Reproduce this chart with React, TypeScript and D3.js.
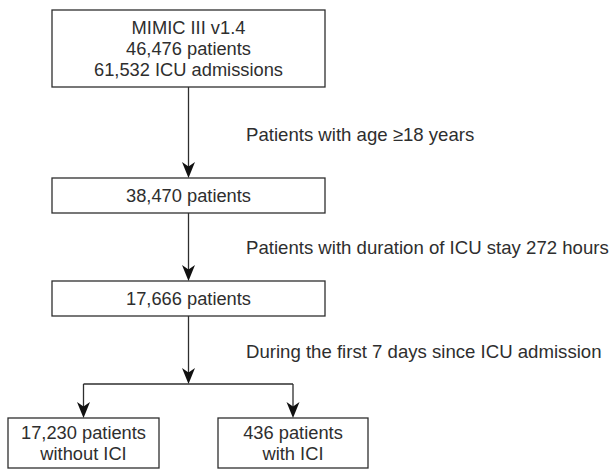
import * as d3 from 'd3';
import React, { useEffect, useRef } from 'react';

// flow content
const nodeIds = ['mimic', 'adult', 'stay', 'noICI', 'ICI'];
const nodeLabels = [
  ['MIMIC III v1.4', '46,476 patients', '61,532 ICU admissions'],
  ['38,470 patients'],
  ['17,666 patients'],
  ['17,230 patients', 'without ICI'],
  ['436 patients', 'with ICI'],
];
const stepLabels = [
  'Patients with age \u226518 years',
  'Patients with duration of ICU stay 272 hours',
  'During the first 7 days since ICU admission',
];

// layout (pixel boxes)
const boxes = [
  { x0: 52, x1: 325, y0: 10, y1: 87 },
  { x0: 52, x1: 325, y0: 178, y1: 213 },
  { x0: 52, x1: 325, y0: 281, y1: 316 },
  { x0: 8, x1: 159, y0: 418, y1: 468 },
  { x0: 218, x1: 368, y0: 418, y1: 468 },
];
const stepY = [134, 247, 351];

const W = 612;
const H = 471;
const INK = '#2e2e2e';
const FONT = '"Liberation Sans", Arial, Helvetica, sans-serif';

const App: React.FC = () => {
  const ref = useRef<SVGSVGElement | null>(null);

  useEffect(() => {
    if (!ref.current) return;
    const svg = d3.select(ref.current);
    svg.selectAll('*').remove();

    const cx = (b: typeof boxes[0]) => (b.x0 + b.x1) / 2;
    const lineH = 21;

    const g = svg.append('g');

    // boxes
    const node = g
      .selectAll('g.node')
      .data(nodeIds)
      .enter()
      .append('g')
      .attr('class', 'node');

    node
      .append('rect')
      .attr('x', (_, i) => boxes[i].x0)
      .attr('y', (_, i) => boxes[i].y0)
      .attr('width', (_, i) => boxes[i].x1 - boxes[i].x0)
      .attr('height', (_, i) => boxes[i].y1 - boxes[i].y0)
      .attr('fill', 'white')
      .attr('stroke', INK)
      .attr('stroke-width', 1.3);

    node.each(function (_, i) {
      const b = boxes[i];
      const lines = nodeLabels[i];
      const mid = (b.y0 + b.y1) / 2;
      const top = mid - ((lines.length - 1) * lineH) / 2;
      d3.select(this)
        .selectAll('text')
        .data(lines)
        .enter()
        .append('text')
        .attr('x', cx(b))
        .attr('y', (_, k) => top + k * lineH)
        .attr('dy', '0.35em')
        .attr('text-anchor', 'middle')
        .attr('font-family', FONT)
        .attr('font-size', 18.3)
        .attr('fill', INK)
        .text((d) => d);
    });

    // arrow helper
    const head = (x: number, y: number) =>
      `M${x},${y} L${x - 6.5},${y - 16} L${x},${y - 11.5} L${x + 6.5},${y - 16} Z`;
    const arrow = (x: number, ya: number, yb: number) => {
      g.append('line')
        .attr('x1', x)
        .attr('x2', x)
        .attr('y1', ya)
        .attr('y2', yb - 6)
        .attr('stroke', INK)
        .attr('stroke-width', 1.3);
      g.append('path').attr('d', head(x, yb)).attr('fill', '#111');
    };

    const mainX = cx(boxes[0]);
    arrow(mainX, boxes[0].y1, boxes[1].y0);
    arrow(mainX, boxes[1].y1, boxes[2].y0);

    // split
    const splitY = 384;
    arrow(mainX, boxes[2].y1, splitY);
    g.append('line')
      .attr('x1', cx(boxes[3]))
      .attr('x2', cx(boxes[4]))
      .attr('y1', splitY)
      .attr('y2', splitY)
      .attr('stroke', INK)
      .attr('stroke-width', 1.3);
    arrow(cx(boxes[3]), splitY, boxes[3].y0);
    arrow(cx(boxes[4]), splitY, boxes[4].y0);

    // step labels
    g.selectAll('text.step')
      .data(stepLabels)
      .enter()
      .append('text')
      .attr('class', 'step')
      .attr('x', 246)
      .attr('y', (_, i) => stepY[i])
      .attr('dy', '0.35em')
      .attr('font-family', FONT)
      .attr('font-size', 18.6)
      .attr('fill', INK)
      .text((d) => d);
  }, []);

  return (
    <svg
      ref={ref}
      width={W}
      height={H}
      style={{ position: 'absolute', left: 0, top: 0, background: 'white' }}
    />
  );
};

export default App;
